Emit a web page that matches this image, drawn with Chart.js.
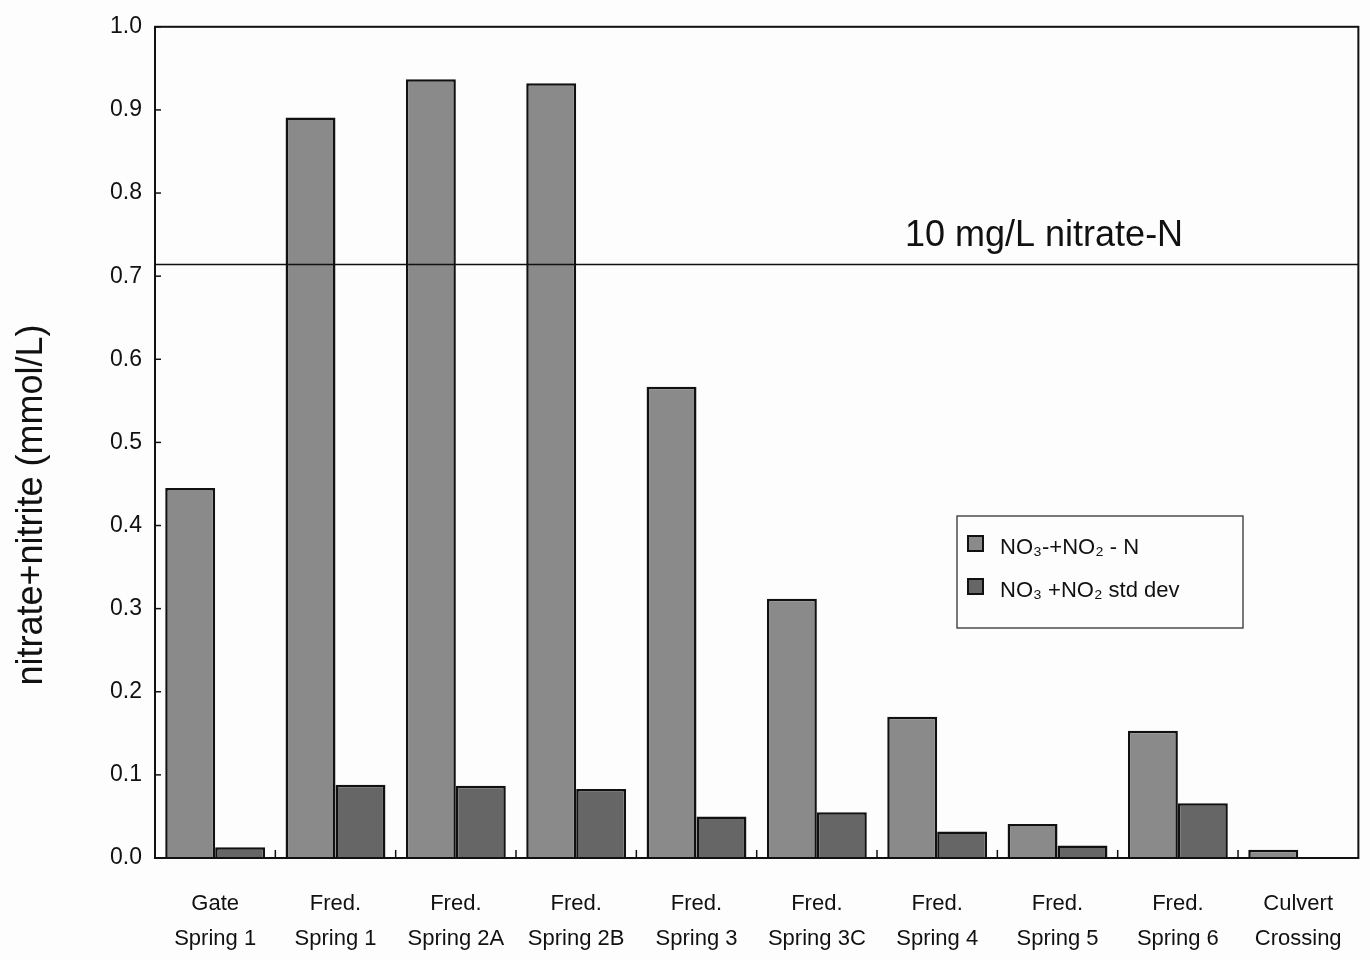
<!DOCTYPE html>
<html>
<head>
<meta charset="utf-8">
<script src="https://cdn.jsdelivr.net/npm/chart.js@4.4.1/dist/chart.umd.min.js"></script>
<style>
html,body{margin:0;padding:0;background:#fdfdfd;}
#wrap{width:1370px;height:960px;}
</style>
</head>
<body>
<div id="wrap"><canvas id="c" width="1370" height="960"></canvas></div>
<script>
const categories = [
  ["Gate","Spring 1"],["Fred.","Spring 1"],["Fred.","Spring 2A"],["Fred.","Spring 2B"],
  ["Fred.","Spring 3"],["Fred.","Spring 3C"],["Fred.","Spring 4"],["Fred.","Spring 5"],
  ["Fred.","Spring 6"],["Culvert","Crossing"]
];
const nitrateValues = [0.445, 0.891, 0.937, 0.932, 0.567, 0.312, 0.170, 0.041, 0.153, 0.010];
const stdDevValues  = [0.013, 0.088, 0.087, 0.083, 0.050, 0.055, 0.032, 0.015, 0.066, 0];
const seriesNames = ["NO\u2083-+NO\u2082 - N", "NO\u2083 +NO\u2082 std dev"];
const yTicks = [0,0.1,0.2,0.3,0.4,0.5,0.6,0.7,0.8,0.9,1.0];
const yTitle = "nitrate+nitrite (mmol/L)";
const limitValue = 0.714;
const limitLabel = "10 mg/L nitrate-N";

const FONT = "'Liberation Sans', Arial, sans-serif";

const decor = {
  id: 'decor',
  afterDraw(chart) {
    const {ctx, chartArea: a, scales: {x, y}} = chart;
    ctx.save();
    // frame
    ctx.strokeStyle = '#111';
    ctx.lineWidth = 2;
    ctx.strokeRect(a.left, a.top, a.right - a.left, a.bottom - a.top);
    // y ticks inward
    ctx.lineWidth = 1.5;
    yTicks.forEach(v => {
      const py = y.getPixelForValue(v);
      ctx.beginPath(); ctx.moveTo(a.left, py); ctx.lineTo(a.left + 6, py); ctx.stroke();
    });
    // x ticks between categories
    for (let i = 1; i < categories.length; i++) {
      const px = (x.getPixelForValue(i - 1) + x.getPixelForValue(i)) / 2;
      ctx.beginPath(); ctx.moveTo(px, a.bottom); ctx.lineTo(px, a.bottom - 8); ctx.stroke();
    }
    // limit line
    const ly = y.getPixelForValue(limitValue);
    ctx.lineWidth = 1.5;
    ctx.beginPath(); ctx.moveTo(a.left, ly); ctx.lineTo(a.right, ly); ctx.stroke();
    ctx.fillStyle = '#111';
    ctx.font = '36px ' + FONT;
    ctx.textAlign = 'left';
    ctx.textBaseline = 'alphabetic';
    ctx.fillText(limitLabel, 905, ly - 19);
    // y title
    ctx.save();
    ctx.translate(32, 505);
    ctx.rotate(-Math.PI / 2);
    ctx.textAlign = 'center';
    ctx.textBaseline = 'middle';
    ctx.font = '36px ' + FONT;
    ctx.fillText(yTitle, 0, 0);
    ctx.restore();
    // legend
    const lx = 957, lyTop = 516, lw = 286, lh = 112;
    ctx.fillStyle = '#fdfdfd';
    ctx.fillRect(lx, lyTop, lw, lh);
    ctx.strokeStyle = '#222';
    ctx.lineWidth = 1.2;
    ctx.strokeRect(lx, lyTop, lw, lh);
    chart.data.datasets.forEach((ds, i) => {
      const ry = lyTop + 27 + i * 43;
      ctx.fillStyle = ds.backgroundColor;
      ctx.fillRect(lx + 11, ry - 7, 15, 15);
      ctx.strokeStyle = '#111';
      ctx.lineWidth = 2;
      ctx.strokeRect(lx + 11, ry - 7, 15, 15);
      ctx.fillStyle = '#111';
      ctx.font = '22px ' + FONT;
      ctx.textAlign = 'left';
      ctx.textBaseline = 'middle';
      ctx.fillText(ds.label, lx + 43, ry + 5);
    });
    ctx.restore();
  }
};

new Chart(document.getElementById('c'), {
  type: 'bar',
  data: {
    labels: categories,
    datasets: [
      {label: seriesNames[0], data: nitrateValues, backgroundColor: '#8a8a8a', borderColor: '#111', borderWidth: 2.5},
      {label: seriesNames[1], data: stdDevValues, backgroundColor: '#666666', borderColor: '#111', borderWidth: 2.5}
    ]
  },
  options: {
    responsive: false,
    animation: false,
    layout: {padding: {top: 18, right: 8, left: 0, bottom: 0}},
    datasets: {bar: {categoryPercentage: 0.83, barPercentage: 1.0}},
    plugins: {legend: {display: false}, tooltip: {enabled: false}},
    scales: {
      x: {
        grid: {display: false, drawTicks: false},
        border: {display: false},
        ticks: {color: '#111', font: {family: FONT, size: 22, lineHeight: 1.6}, padding: 28, maxRotation: 0, autoSkip: false},
        afterFit(s) { s.height = 102; }
      },
      y: {
        min: 0, max: 1.0,
        afterBuildTicks(s) { s.ticks = yTicks.map(v => ({value: v})); },
        grid: {display: false, drawTicks: false},
        border: {display: false},
        ticks: {color: '#111', font: {family: FONT, size: 23}, padding: 13, callback: v => v.toFixed(1)},
        afterFit(s) { s.width = 155; }
      }
    }
  },
  plugins: [decor]
});
</script>
</body>
</html>
